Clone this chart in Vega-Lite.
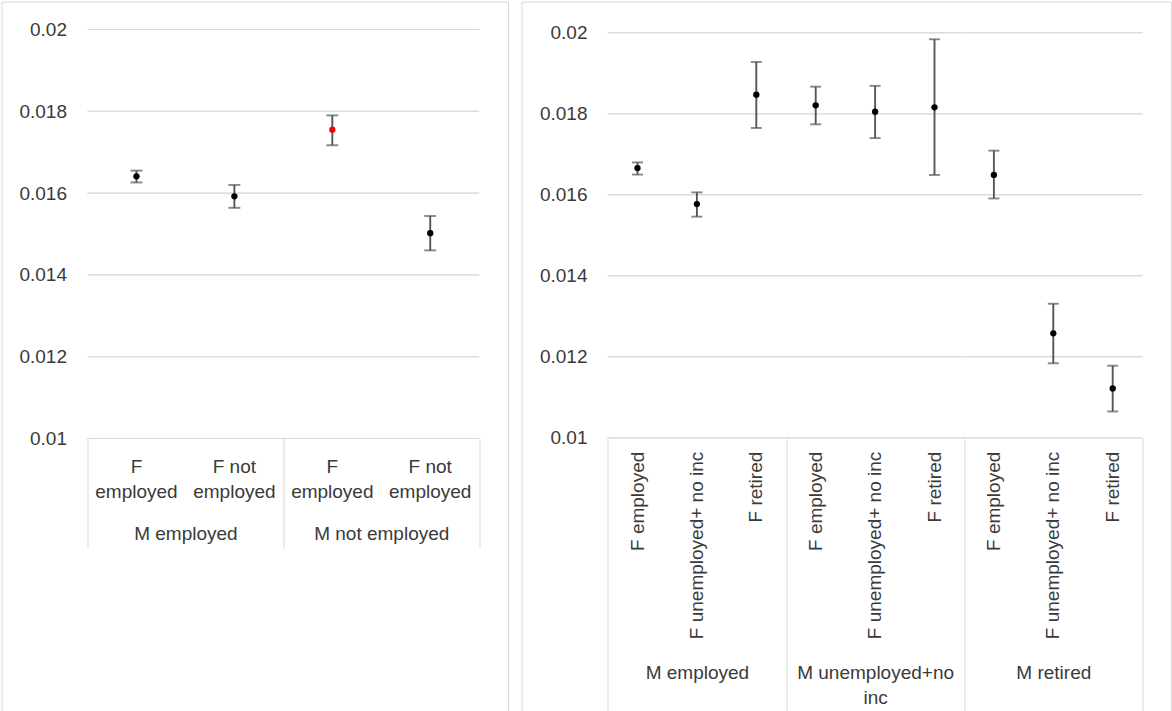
{
  "$schema": "https://vega.github.io/schema/vega-lite/v6.json",
  "padding": {"left": 0.5, "top": 0.5, "right": 0, "bottom": 0},
  "spacing": 12,
  "config": {
    "font": "Liberation Sans",
    "view": {"stroke": "#d9d9d9", "strokeWidth": 1},
    "axis": {"labelFont": "Liberation Sans", "labelFontSize": 19, "labelColor": "#3a3a3a", "minExtent": 0}
  },
  "hconcat": [
    {
      "width": 506.5,
      "height": 715,
      "data": {"values": [
        {"m": "M employed", "f": "F employed", "est": 0.01641, "lo": 0.01626, "hi": 0.01655},
        {"m": "M employed", "f": "F not employed", "est": 0.01592, "lo": 0.01564, "hi": 0.0162},
        {"m": "M not employed", "f": "F employed", "est": 0.01755, "lo": 0.01717, "hi": 0.0179},
        {"m": "M not employed", "f": "F not employed", "est": 0.01502, "lo": 0.0146, "hi": 0.01544}
      ]},
      "transform": [{"calculate": "datum.m + ' | ' + datum.f", "as": "key"}],
      "layer": [
        {
          "transform": [{"aggregate": [{"op": "count", "as": "n"}], "groupby": ["m"]}],
          "encoding": {
            "x": {"field": "m", "type": "nominal", "title": null,
              "scale": {"type": "band", "domain": ["M employed", "M not employed"], "paddingInner": 0, "paddingOuter": 0.29308, "align": 0.74913},
              "axis": {"orient": "bottom", "offset": -278, "domain": false, "ticks": true, "tickBand": "extent", "tickSize": 110, "tickColor": "#d9d9d9", "tickWidth": 1, "labelPadding": -9, "labelBaseline": "alphabetic", "labelAngle": 0, "labelAlign": "center", "labelOverlap": false, "labelLimit": 0, "grid": false}}
          },
          "layer": [
            {"mark": {"type": "bar", "fill": "transparent", "stroke": "#d9d9d9", "strokeWidth": 1}, "encoding": {"y": {"datum": 0.01, "type": "quantitative", "scale": {"domain": [0.003202934, 0.020684597], "nice": false, "zero": false}, "axis": null}, "y2": {"datum": 0.01}}},
            {"mark": {"type": "bar", "fill": "transparent", "stroke": "#d9d9d9", "strokeWidth": 1}, "encoding": {"y": {"datum": 0.012, "type": "quantitative", "scale": {"domain": [0.003202934, 0.020684597], "nice": false, "zero": false}, "axis": null}, "y2": {"datum": 0.012}}},
            {"mark": {"type": "bar", "fill": "transparent", "stroke": "#d9d9d9", "strokeWidth": 1}, "encoding": {"y": {"datum": 0.014, "type": "quantitative", "scale": {"domain": [0.003202934, 0.020684597], "nice": false, "zero": false}, "axis": null}, "y2": {"datum": 0.014}}},
            {"mark": {"type": "bar", "fill": "transparent", "stroke": "#d9d9d9", "strokeWidth": 1}, "encoding": {"y": {"datum": 0.016, "type": "quantitative", "scale": {"domain": [0.003202934, 0.020684597], "nice": false, "zero": false}, "axis": null}, "y2": {"datum": 0.016}}},
            {"mark": {"type": "bar", "fill": "transparent", "stroke": "#d9d9d9", "strokeWidth": 1}, "encoding": {"y": {"datum": 0.018, "type": "quantitative", "scale": {"domain": [0.003202934, 0.020684597], "nice": false, "zero": false}, "axis": null}, "y2": {"datum": 0.018}}},
            {"mark": {"type": "bar", "fill": "transparent", "stroke": "#d9d9d9", "strokeWidth": 1}, "encoding": {"y": {"datum": 0.02, "type": "quantitative", "scale": {"domain": [0.003202934, 0.020684597], "nice": false, "zero": false}, "axis": null}, "y2": {"datum": 0.02}}}
          ]
        },
        {
          "encoding": {
            "x": {"field": "key", "type": "nominal", "sort": null, "title": null,
              "scale": {"type": "band", "paddingInner": 0, "paddingOuter": 0.58616, "align": 0.74913},
              "axis": {"orient": "bottom", "offset": -278, "domain": false, "ticks": false, "labelPadding": 34, "labelBaseline": "alphabetic", "labelAngle": 0, "labelAlign": "center", "labelLineHeight": 25, "labelOverlap": false, "labelLimit": 0, "grid": false,
                "labelExpr": "[replace(split(datum.value, ' | ')[1], ' employed', ''), 'employed']"}}
          },
          "layer": [
            {"mark": {"type": "rule", "color": "#555555", "strokeWidth": 1.9}, "encoding": {"y": {"field": "lo", "type": "quantitative", "title": null, "scale": {"domain": [0.003202934, 0.020684597], "nice": false, "zero": false},
              "axis": {"orient": "left", "offset": -86, "values": [0.01, 0.012, 0.014, 0.016, 0.018, 0.02], "format": "~g", "domain": false, "ticks": false, "grid": false, "labelPadding": 21, "labelBaseline": "middle", "labelAlign": "right"}}, "y2": {"field": "hi"}}},
            {"mark": {"type": "tick", "color": "#555555", "thickness": 1.9, "size": 12, "orient": "horizontal"}, "encoding": {"y": {"field": "lo", "type": "quantitative", "title": null, "scale": {"domain": [0.003202934, 0.020684597], "nice": false, "zero": false},
              "axis": {"orient": "left", "offset": -86, "values": [0.01, 0.012, 0.014, 0.016, 0.018, 0.02], "format": "~g", "domain": false, "ticks": false, "grid": false, "labelPadding": 21, "labelBaseline": "middle", "labelAlign": "right"}}}},
            {"mark": {"type": "tick", "color": "#555555", "thickness": 1.9, "size": 12, "orient": "horizontal"}, "encoding": {"y": {"field": "hi", "type": "quantitative", "title": null, "scale": {"domain": [0.003202934, 0.020684597], "nice": false, "zero": false},
              "axis": {"orient": "left", "offset": -86, "values": [0.01, 0.012, 0.014, 0.016, 0.018, 0.02], "format": "~g", "domain": false, "ticks": false, "grid": false, "labelPadding": 21, "labelBaseline": "middle", "labelAlign": "right"}}}},
            {"mark": {"type": "point", "filled": true, "size": 40, "opacity": 1},
              "encoding": {
                "y": {"field": "est", "type": "quantitative", "title": null, "scale": {"domain": [0.003202934, 0.020684597], "nice": false, "zero": false},
                  "axis": {"orient": "left", "offset": -86, "values": [0.01, 0.012, 0.014, 0.016, 0.018, 0.02], "format": "~g", "domain": false, "ticks": false, "grid": false, "labelPadding": 21, "labelBaseline": "middle", "labelAlign": "right"}},
                "color": {"condition": {"test": "datum.m == 'M not employed' && datum.f == 'F employed'", "value": "#ff0000"}, "value": "#000000"}
              }}
          ]
        }
      ],
      "resolve": {"scale": {"x": "independent"}, "axis": {"x": "independent", "y": "independent"}}
    },
    {
      "width": 649.5,
      "height": 715,
      "data": {"values": [
        {"m": "M employed", "f": "F employed", "est": 0.01666, "lo": 0.0165, "hi": 0.0168},
        {"m": "M employed", "f": "F unemployed+ no inc", "est": 0.01577, "lo": 0.01546, "hi": 0.01606},
        {"m": "M employed", "f": "F retired", "est": 0.01847, "lo": 0.01765, "hi": 0.01928},
        {"m": "M unemployed+no inc", "f": "F employed", "est": 0.01821, "lo": 0.01774, "hi": 0.01867},
        {"m": "M unemployed+no inc", "f": "F unemployed+ no inc", "est": 0.01805, "lo": 0.0174, "hi": 0.01869},
        {"m": "M unemployed+no inc", "f": "F retired", "est": 0.01816, "lo": 0.01649, "hi": 0.01984},
        {"m": "M retired", "f": "F employed", "est": 0.01649, "lo": 0.01591, "hi": 0.01709},
        {"m": "M retired", "f": "F unemployed+ no inc", "est": 0.01258, "lo": 0.01184, "hi": 0.01331},
        {"m": "M retired", "f": "F retired", "est": 0.01122, "lo": 0.01065, "hi": 0.01178}
      ]},
      "transform": [{"calculate": "datum.m + ' | ' + datum.f", "as": "key"}],
      "layer": [
        {
          "transform": [{"aggregate": [{"op": "count", "as": "n"}], "groupby": ["m"]}],
          "encoding": {
            "x": {"field": "m", "type": "nominal", "title": null,
              "scale": {"type": "band", "domain": ["M employed", "M unemployed+no inc", "M retired"], "paddingInner": 0, "paddingOuter": 0.32239, "align": 0.75109},
              "axis": {"orient": "bottom", "offset": -278.7, "domain": false, "ticks": true, "tickBand": "extent", "tickSize": 278.7, "tickColor": "#d9d9d9", "tickWidth": 1, "labelPadding": -38.5, "labelBaseline": "alphabetic", "labelAngle": 0, "labelAlign": "center", "labelLineHeight": 25, "labelOverlap": false, "labelLimit": 0, "grid": false,
                "labelExpr": "datum.value == 'M unemployed+no inc' ? ['M unemployed+no', 'inc'] : datum.value"}}
          },
          "layer": [
            {"mark": {"type": "bar", "fill": "transparent", "stroke": "#d9d9d9", "strokeWidth": 1}, "encoding": {"y": {"datum": 0.01, "type": "quantitative", "scale": {"domain": [0.003118519, 0.02077284], "nice": false, "zero": false}, "axis": null}, "y2": {"datum": 0.01}}},
            {"mark": {"type": "bar", "fill": "transparent", "stroke": "#d9d9d9", "strokeWidth": 1}, "encoding": {"y": {"datum": 0.012, "type": "quantitative", "scale": {"domain": [0.003118519, 0.02077284], "nice": false, "zero": false}, "axis": null}, "y2": {"datum": 0.012}}},
            {"mark": {"type": "bar", "fill": "transparent", "stroke": "#d9d9d9", "strokeWidth": 1}, "encoding": {"y": {"datum": 0.014, "type": "quantitative", "scale": {"domain": [0.003118519, 0.02077284], "nice": false, "zero": false}, "axis": null}, "y2": {"datum": 0.014}}},
            {"mark": {"type": "bar", "fill": "transparent", "stroke": "#d9d9d9", "strokeWidth": 1}, "encoding": {"y": {"datum": 0.016, "type": "quantitative", "scale": {"domain": [0.003118519, 0.02077284], "nice": false, "zero": false}, "axis": null}, "y2": {"datum": 0.016}}},
            {"mark": {"type": "bar", "fill": "transparent", "stroke": "#d9d9d9", "strokeWidth": 1}, "encoding": {"y": {"datum": 0.018, "type": "quantitative", "scale": {"domain": [0.003118519, 0.02077284], "nice": false, "zero": false}, "axis": null}, "y2": {"datum": 0.018}}},
            {"mark": {"type": "bar", "fill": "transparent", "stroke": "#d9d9d9", "strokeWidth": 1}, "encoding": {"y": {"datum": 0.02, "type": "quantitative", "scale": {"domain": [0.003118519, 0.02077284], "nice": false, "zero": false}, "axis": null}, "y2": {"datum": 0.02}}}
          ]
        },
        {
          "encoding": {
            "x": {"field": "key", "type": "nominal", "sort": null, "title": null,
              "scale": {"type": "band", "paddingInner": 0, "paddingOuter": 0.96717, "align": 0.75109},
              "axis": {"orient": "bottom", "offset": -278.7, "domain": false, "ticks": false, "labelPadding": 13.4, "labelBaseline": "middle", "labelAngle": -90, "labelAlign": "right", "labelOverlap": false, "labelLimit": 0, "grid": false,
                "labelExpr": "split(datum.value, ' | ')[1]"}}
          },
          "layer": [
            {"mark": {"type": "rule", "color": "#555555", "strokeWidth": 1.9}, "encoding": {"y": {"field": "lo", "type": "quantitative", "title": null, "scale": {"domain": [0.003118519, 0.02077284], "nice": false, "zero": false},
              "axis": {"orient": "left", "offset": -86.3, "values": [0.01, 0.012, 0.014, 0.016, 0.018, 0.02], "format": "~g", "domain": false, "ticks": false, "grid": false, "labelPadding": 20.8, "labelBaseline": "middle", "labelAlign": "right"}}, "y2": {"field": "hi"}}},
            {"mark": {"type": "tick", "color": "#555555", "thickness": 1.9, "size": 11, "orient": "horizontal"}, "encoding": {"y": {"field": "lo", "type": "quantitative", "title": null, "scale": {"domain": [0.003118519, 0.02077284], "nice": false, "zero": false},
              "axis": {"orient": "left", "offset": -86.3, "values": [0.01, 0.012, 0.014, 0.016, 0.018, 0.02], "format": "~g", "domain": false, "ticks": false, "grid": false, "labelPadding": 20.8, "labelBaseline": "middle", "labelAlign": "right"}}}},
            {"mark": {"type": "tick", "color": "#555555", "thickness": 1.9, "size": 11, "orient": "horizontal"}, "encoding": {"y": {"field": "hi", "type": "quantitative", "title": null, "scale": {"domain": [0.003118519, 0.02077284], "nice": false, "zero": false},
              "axis": {"orient": "left", "offset": -86.3, "values": [0.01, 0.012, 0.014, 0.016, 0.018, 0.02], "format": "~g", "domain": false, "ticks": false, "grid": false, "labelPadding": 20.8, "labelBaseline": "middle", "labelAlign": "right"}}}},
            {"mark": {"type": "point", "filled": true, "size": 40, "opacity": 1, "color": "#000000"},
              "encoding": {
                "y": {"field": "est", "type": "quantitative", "title": null, "scale": {"domain": [0.003118519, 0.02077284], "nice": false, "zero": false},
                  "axis": {"orient": "left", "offset": -86.3, "values": [0.01, 0.012, 0.014, 0.016, 0.018, 0.02], "format": "~g", "domain": false, "ticks": false, "grid": false, "labelPadding": 20.8, "labelBaseline": "middle", "labelAlign": "right"}}
              }}
          ]
        }
      ],
      "resolve": {"scale": {"x": "independent"}, "axis": {"x": "independent", "y": "independent"}}
    }
  ]
}
